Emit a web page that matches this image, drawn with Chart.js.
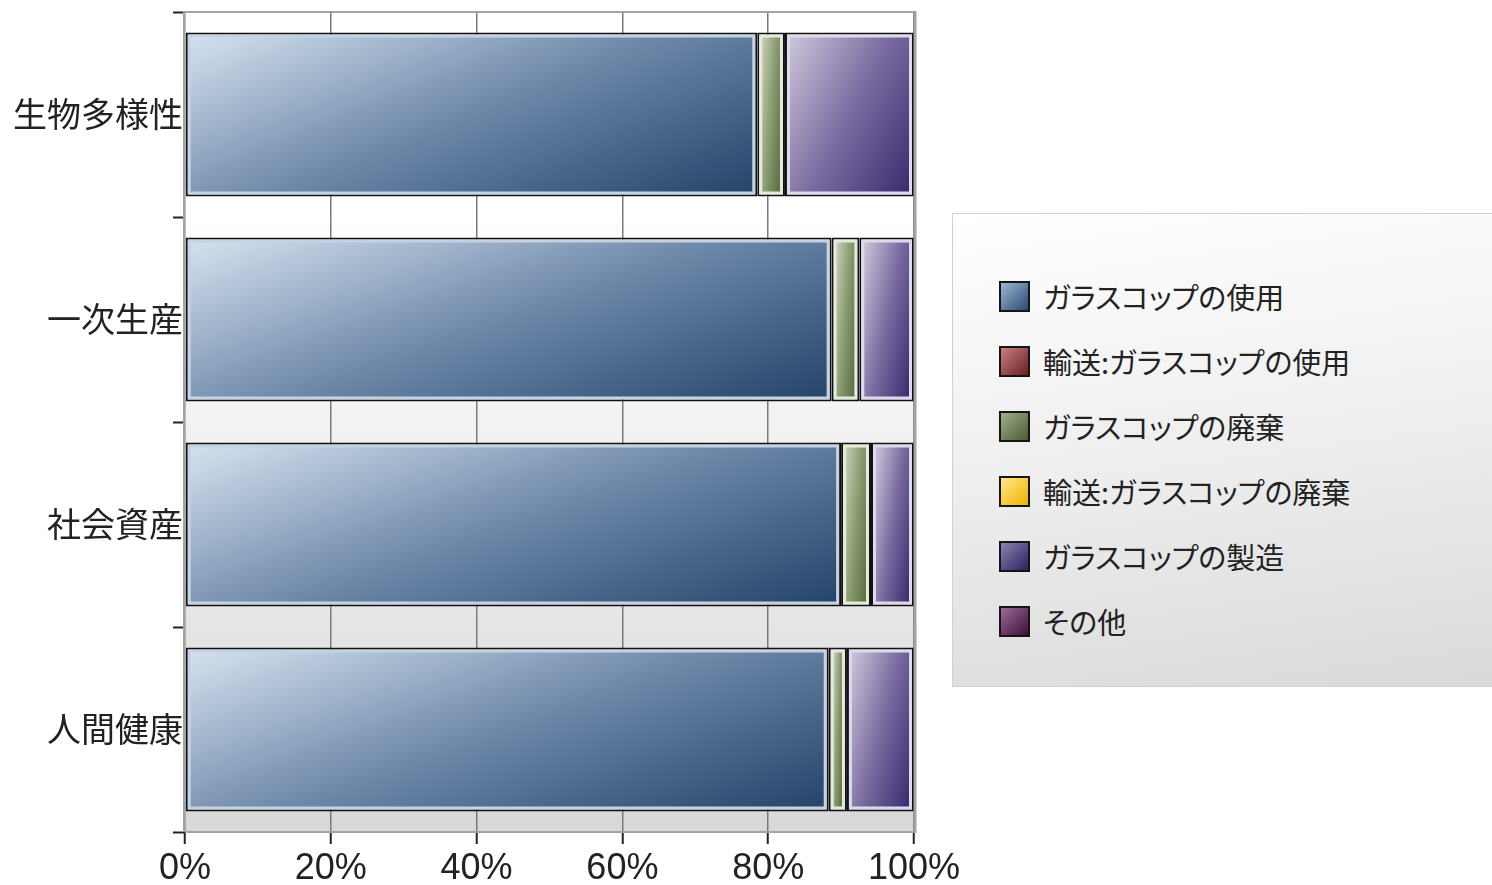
<!DOCTYPE html>
<html>
<head>
<meta charset="utf-8">
<script src="https://cdn.jsdelivr.net/npm/chart.js@4/dist/chart.umd.min.js"></script>
<style>
html, body { margin: 0; padding: 0; background: #fff; }
#contenedor { position: relative; width: 1492px; height: 885px; overflow: hidden; }
#grafico { position: absolute; left: 0; top: 0; }
#leyenda {
    position: absolute; left: 952px; top: 213px; width: 580px; height: 474px;
    box-sizing: border-box; border: 1px solid #d0d0d0;
    background: linear-gradient(172deg, #ffffff 0%, #eeeeee 50%, #d9d9d9 100%);
}
.item {
    position: absolute; left: 46px; height: 36px; display: flex; align-items: center;
    font-family: "Noto Sans CJK JP", sans-serif; font-size: 29px; line-height: 36px;
    font-feature-settings: "palt"; color: #222; white-space: nowrap;
}
.caja { width: 27px; height: 27px; border: 2px solid #151515; margin-right: 13px; flex: none; }
</style>
</head>
<body>
<div id="contenedor">
    <canvas id="grafico" width="1492" height="885"></canvas>
    <div id="leyenda"></div>
</div>
<script>
// datos (porcentajes)
const categorias = ['生物多様性', '一次生産', '社会資産', '人間健康']
const series = ['ガラスコップの使用', '輸送:ガラスコップの使用', 'ガラスコップの廃棄', '輸送:ガラスコップの廃棄', 'ガラスコップの製造', 'その他']
const usoVaso = [78.5, 88.7, 90.0, 88.3]
const transporteUso = [0, 0, 0, 0]
const desechoVaso = [3.8, 3.8, 4.1, 2.5]
const transporteDesecho = [0, 0, 0, 0]
const fabricacion = [17.7, 7.5, 5.9, 9.2]
const otros = [0, 0, 0, 0]
const etiquetasX = ['0%', '20%', '40%', '60%', '80%', '100%']

const valores = [usoVaso, transporteUso, desechoVaso, transporteDesecho, fabricacion, otros]

// colores: claro (arriba izq), medio, oscuro (abajo der), marco interior, leyenda
const claros = ['#d4e0ee', '#e0a8a8', '#c5cfb5', '#fff0a8', '#cbc4da', '#c8a0c4']
const medios = ['#6c87a8', '#a05858', '#8a9a70', '#f8d050', '#7a6ca0', '#885880']
const oscuros = ['#26456b', '#6a1f1f', '#5a6e40', '#f2b600', '#3b2c70', '#4a1846']
const marcos = ['#c4d2e4', '#ecd0d0', '#e4eadc', '#fff4cc', '#dfd9ec', '#e4d0e2']
const leyendaClaro = ['#9fb7d4', '#c98080', '#a0ae8c', '#ffe88a', '#8a82b0', '#9a6c96']
const leyendaOscuro = ['#2a4a72', '#6a2020', '#4c5c34', '#f0b400', '#2a2162', '#3e1038']

// fondo del area del grafico
const fondo = {
    id: 'fondo',
    beforeDraw(chart) {
        const { ctx, chartArea: a } = chart
        const g = ctx.createLinearGradient(0, a.top, 0, a.bottom)
        g.addColorStop(0, '#ffffff')
        g.addColorStop(0.25, '#ffffff')
        g.addColorStop(1, '#d8d8d8')
        ctx.save()
        ctx.fillStyle = g
        ctx.fillRect(a.left, a.top, a.right - a.left, a.bottom - a.top)
        ctx.restore()
    }
}

// degradado diagonal dentro de cada barra + marco gris
const sombreado = {
    id: 'sombreado',
    afterDatasetsDraw(chart) {
        const ctx = chart.ctx
        ctx.save()
        chart.data.datasets.forEach((ds, i) => {
            const meta = chart.getDatasetMeta(i)
            meta.data.forEach(bar => {
                const { x, y, base, height } = bar.getProps(['x', 'y', 'base', 'height'], true)
                const izq = Math.min(x, base), der = Math.max(x, base)
                const arr = y - height / 2
                const w = der - izq - 10, h = height - 10
                if (w <= 0) return
                const x0 = izq + 5, y0 = arr + 5
                const p = 0.6 / w, q = 0.4 / h, n = p * p + q * q
                const g = ctx.createLinearGradient(x0, y0, x0 + p / n, y0 + q / n)
                g.addColorStop(0, claros[i])
                g.addColorStop(0.5, medios[i])
                g.addColorStop(1, oscuros[i])
                ctx.fillStyle = g
                ctx.fillRect(x0, y0, w, h)
            })
        })
        const a = chart.chartArea
        ctx.strokeStyle = '#a3a3a3'
        ctx.lineWidth = 2
        ctx.beginPath()
        ctx.moveTo(a.left - 1, a.bottom)
        ctx.lineTo(a.left - 1, a.top)
        ctx.lineTo(a.right, a.top)
        ctx.moveTo(a.left, a.bottom)
        ctx.lineTo(a.right, a.bottom)
        ctx.stroke()
        ctx.lineWidth = 3
        ctx.beginPath()
        ctx.moveTo(a.right + 1, a.top - 1)
        ctx.lineTo(a.right + 1, a.bottom + 1)
        ctx.stroke()
        ctx.restore()
    }
}

const datasets = series.map((nombre, i) => ({
    label: nombre,
    data: valores[i],
    backgroundColor: marcos[i],
    borderColor: '#111111',
    borderWidth: 2,
    borderSkipped: false,
    categoryPercentage: 0.8,
    barPercentage: 1
}))

const ctx = document.getElementById('grafico').getContext('2d')
const myChart = new Chart(ctx, {
    type: 'bar',
    data: { labels: categorias, datasets: datasets },
    options: {
        indexAxis: 'y',
        responsive: false,
        animation: false,
        layout: { padding: { top: 12, right: 578, left: 0, bottom: 0 } },
        plugins: { legend: { display: false }, tooltip: { enabled: false } },
        scales: {
            x: {
                stacked: true,
                min: 0,
                max: 100,
                afterFit(scale) { scale.height = 53 },
                border: { display: false },
                grid: { color: '#7a7a7a', lineWidth: 1.5, tickColor: '#222', tickLength: 12, tickWidth: 2 },
                ticks: {
                    stepSize: 20,
                    padding: 3,
                    color: '#222',
                    font: { family: 'Liberation Sans', size: 36 },
                    callback: (v, i) => etiquetasX[i]
                }
            },
            y: {
                stacked: true,
                afterFit(scale) { scale.width = 185 },
                border: { display: false },
                grid: { drawOnChartArea: false, tickColor: '#222', tickLength: 12, tickWidth: 2, offset: true },
                ticks: {
                    padding: -10,
                    color: '#222',
                    font: { family: 'Noto Sans CJK JP', size: 34 }
                }
            }
        }
    },
    plugins: [fondo, sombreado]
})

// leyenda en html
const leyenda = document.getElementById('leyenda')
series.forEach((nombre, i) => {
    const item = document.createElement('div')
    item.className = 'item'
    item.style.top = (64 + i * 65) + 'px'
    const caja = document.createElement('div')
    caja.className = 'caja'
    caja.style.background = `linear-gradient(135deg, ${leyendaClaro[i]}, ${leyendaOscuro[i]})`
    item.appendChild(caja)
    item.appendChild(document.createTextNode(nombre))
    leyenda.appendChild(item)
})
</script>
</body>
</html>
